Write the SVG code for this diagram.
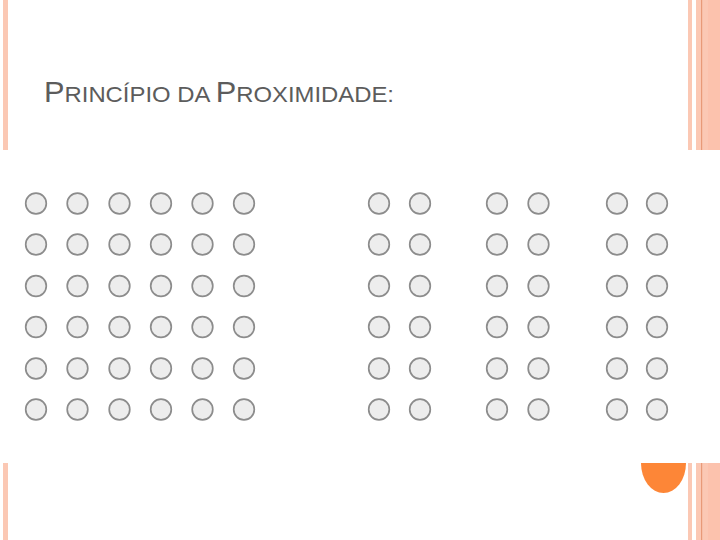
<svg xmlns="http://www.w3.org/2000/svg" xmlns:xlink="http://www.w3.org/1999/xlink" width="720" height="540" viewBox="0 0 720 540">
<style>
.stripe{fill:#fbc8b4}
.dot{fill:#ededed;stroke:#8c8c8c;stroke-width:1.7}
.title{font-family:"Liberation Sans",Arial,sans-serif;fill:#5c5c5c}
</style>
<defs>
<g id="row6">
<circle class="dot" cx="36" cy="0" r="10.3"/>
<circle class="dot" cx="77.5" cy="0" r="10.3"/>
<circle class="dot" cx="119.5" cy="0" r="10.3"/>
<circle class="dot" cx="161" cy="0" r="10.3"/>
<circle class="dot" cx="202.5" cy="0" r="10.3"/>
<circle class="dot" cx="244" cy="0" r="10.3"/>
</g>
<g id="col">
<circle class="dot" cx="0" cy="203.5" r="10.3"/>
<circle class="dot" cx="0" cy="244.5" r="10.3"/>
<circle class="dot" cx="0" cy="286" r="10.3"/>
<circle class="dot" cx="0" cy="327" r="10.3"/>
<circle class="dot" cx="0" cy="368.5" r="10.3"/>
<circle class="dot" cx="0" cy="409.5" r="10.3"/>
</g>
</defs>
<rect width="720" height="540" fill="#ffffff"/>
<g id="frame">
<rect class="stripe" x="3" y="0" width="5" height="150"/>
<rect class="stripe" x="3" y="463" width="5" height="77"/>
<rect class="stripe" x="688" y="0" width="4" height="150"/>
<rect class="stripe" x="696" y="0" width="24" height="150"/>
<rect x="708" y="0" width="12" height="150" fill="#fcc2ad"/>
<rect x="701" y="0" width="1.2" height="150" fill="#e89a78"/>
<rect class="stripe" x="688" y="463" width="4" height="77"/>
<rect class="stripe" x="696" y="463" width="24" height="77"/>
<rect x="708" y="463" width="12" height="77" fill="#fcc2ad"/>
<rect x="701" y="463" width="1.2" height="77" fill="#e89a78"/>
<path d="M641 463 A22.5 30 0 0 0 686 463 Z" fill="#fd8637"/>
</g>
<g id="title">
<text class="title" x="44" y="101.5" textLength="350" lengthAdjust="spacingAndGlyphs"><tspan font-size="29">P</tspan><tspan font-size="22.5">RINCÍPIO DA </tspan><tspan font-size="29">P</tspan><tspan font-size="22.5">ROXIMIDADE:</tspan></text>
</g>
<g id="grid-left">
<use xlink:href="#row6" y="203.5"/>
<use xlink:href="#row6" y="244.5"/>
<use xlink:href="#row6" y="286"/>
<use xlink:href="#row6" y="327"/>
<use xlink:href="#row6" y="368.5"/>
<use xlink:href="#row6" y="409.5"/>
</g>
<g id="group-1">
<use xlink:href="#col" x="379"/>
<use xlink:href="#col" x="420"/>
</g>
<g id="group-2">
<use xlink:href="#col" x="497"/>
<use xlink:href="#col" x="538.5"/>
</g>
<g id="group-3">
<use xlink:href="#col" x="617"/>
<use xlink:href="#col" x="657"/>
</g>
<g id="connectors"/>
</svg>
